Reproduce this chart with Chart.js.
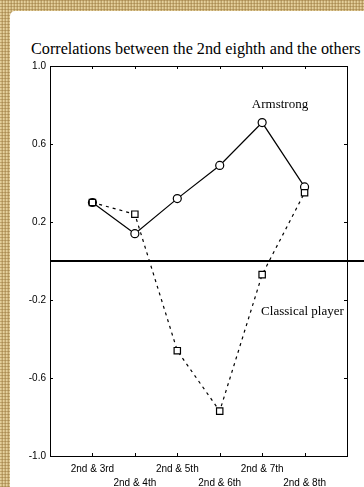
<!DOCTYPE html>
<html>
<head>
<meta charset="utf-8">
<script src="https://cdn.jsdelivr.net/npm/chart.js@4/dist/chart.umd.min.js"></script>
<style>
  html, body { margin: 0; padding: 0; }
  body {
    width: 364px; height: 487px; overflow: hidden; position: relative;
    background-color: #d3bb84;
    background-image:
      repeating-linear-gradient(0deg, rgba(150,115,55,0.45) 0 1px, transparent 1px 3px),
      repeating-linear-gradient(90deg, rgba(245,228,180,0.5) 0 1px, transparent 1px 2px, rgba(140,105,50,0.3) 2px 3px);
  }
  #panel {
    position: absolute; left: 10px; top: 11px; right: 0; bottom: 0;
    background: #fff; border-top-left-radius: 5px;
  }
  #title {
    position: absolute; left: 31px; top: 40px; white-space: nowrap;
    font-family: "Liberation Serif", "Times New Roman", serif; font-size: 16.2px; color: #000;
  }
  #wrap { position: absolute; left: 0; top: 0; width: 364px; height: 487px; }
</style>
</head>
<body>
<div id="panel"></div>
<div id="title">Correlations between the 2nd eighth and the others</div>
<div id="wrap"><canvas id="corrChart" width="364" height="487"></canvas></div>
<script>
const categories = ["2nd & 3rd", "2nd & 4th", "2nd & 5th", "2nd & 6th", "2nd & 7th", "2nd & 8th"];
const armstrong = [0.30, 0.14, 0.32, 0.49, 0.71, 0.38];
const classical = [0.30, 0.24, -0.46, -0.77, -0.07, 0.35];
const yTicks = [-1.0, -0.6, -0.2, 0.2, 0.6, 1.0];

function toPoints(values) {
    return values.map((v, i) => ({ x: i + 1, y: v }));
}

// frame, inner tick marks, zero line and the two series labels
const decorations = {
    id: 'decorations',
    afterDraw(chart) {
        const ctx = chart.ctx;
        const a = chart.chartArea;
        const xs = chart.scales.x;
        const ys = chart.scales.y;
        ctx.save();
        ctx.strokeStyle = '#000';
        ctx.lineWidth = 1;
        ctx.strokeRect(Math.round(a.left) + 0.5, Math.round(a.top) + 0.5,
            Math.round(a.right - a.left), Math.round(a.bottom - a.top));

        ctx.beginPath();
        categories.forEach((c, i) => {
            let px = Math.round(xs.getPixelForValue(i + 1)) + 0.5;
            ctx.moveTo(px, a.bottom); ctx.lineTo(px, a.bottom - 3);
            ctx.moveTo(px, a.top); ctx.lineTo(px, a.top + 3);
        });
        yTicks.forEach(v => {
            let py = Math.round(ys.getPixelForValue(v)) + 0.5;
            ctx.moveTo(a.left, py); ctx.lineTo(a.left + 3, py);
            ctx.moveTo(a.right, py); ctx.lineTo(a.right - 3, py);
        });
        ctx.stroke();

        let zy = ys.getPixelForValue(0);
        ctx.lineWidth = 2;
        ctx.beginPath();
        ctx.moveTo(a.left, zy);
        ctx.lineTo(chart.width, zy);
        ctx.stroke();

        ctx.fillStyle = '#000';
        ctx.font = '13px "Liberation Serif", "Times New Roman", serif';
        ctx.textAlign = 'center';
        ctx.textBaseline = 'middle';
        ctx.fillText('Armstrong', xs.getPixelForValue(5.42), ys.getPixelForValue(0.80));
        ctx.fillText('Classical player', xs.getPixelForValue(5.95), ys.getPixelForValue(-0.26));
        ctx.restore();
    }
};

new Chart(document.getElementById('corrChart'), {
    type: 'line',
    data: {
        datasets: [
            {
                label: 'Classical player',
                data: toPoints(classical),
                borderColor: '#000',
                borderWidth: 1.2,
                borderDash: [3, 4],
                pointStyle: 'rect',
                pointRadius: 4.5,
                pointBackgroundColor: '#fff',
                pointBorderColor: '#000',
                pointBorderWidth: 1.2,
                tension: 0
            },
            {
                label: 'Armstrong',
                data: toPoints(armstrong),
                borderColor: '#000',
                borderWidth: 1.2,
                pointStyle: 'circle',
                pointRadius: 4,
                pointBackgroundColor: '#fff',
                pointBorderColor: '#000',
                pointBorderWidth: 1.2,
                tension: 0
            }
        ]
    },
    options: {
        responsive: false,
        animation: false,
        layout: { padding: { left: 0, right: 17, top: 66, bottom: 0 } },
        plugins: { legend: { display: false }, tooltip: { enabled: false }, title: { display: false } },
        scales: {
            x: {
                type: 'linear',
                min: 0,
                max: 7,
                grid: { display: false, drawTicks: false },
                border: { display: false },
                afterBuildTicks: scale => { scale.ticks = categories.map((c, i) => ({ value: i + 1 })); },
                afterFit: scale => { scale.height = 31; },
                ticks: {
                    autoSkip: false,
                    maxRotation: 0,
                    padding: 6,
                    color: '#000',
                    font: { family: '"Liberation Sans", Arial, sans-serif', size: 10, lineHeight: 1.4 },
                    callback: (value, index) => {
                        let label = categories[value - 1] || '';
                        return index % 2 === 0 ? [label, ''] : ['', label];
                    }
                }
            },
            y: {
                min: -1,
                max: 1,
                grid: { display: false, drawTicks: false },
                border: { display: false },
                afterBuildTicks: scale => { scale.ticks = yTicks.map(v => ({ value: v })); },
                afterFit: scale => { scale.width = 50; },
                ticks: {
                    padding: 4,
                    color: '#000',
                    font: { family: '"Liberation Sans", Arial, sans-serif', size: 10 },
                    callback: value => value.toFixed(1)
                }
            }
        }
    },
    plugins: [decorations]
});
</script>
</body>
</html>
